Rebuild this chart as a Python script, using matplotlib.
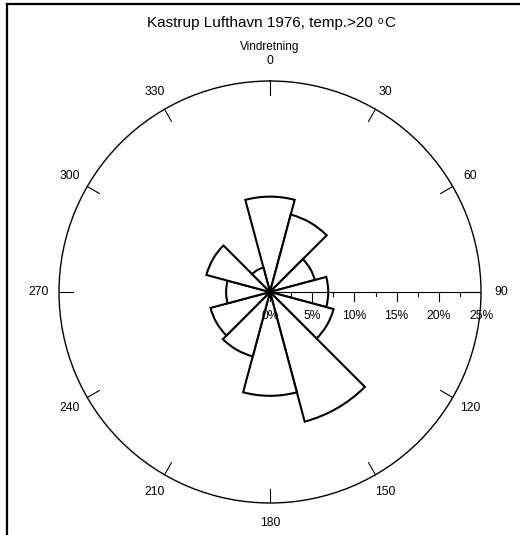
import numpy as np
import matplotlib.pyplot as plt
from matplotlib.lines import Line2D

plt.rcParams['font.family'] = ['Liberation Sans', 'DejaVu Sans']

# wind direction (deg) and frequency (%)
directions = [0, 30, 60, 90, 120, 150, 180, 210, 240, 270, 300, 330]
freq = [11.3, 9.5, 5.5, 6.9, 7.8, 15.9, 12.3, 7.9, 7.3, 5.2, 7.8, 3.0]
angle_labels = ['0', '30', '60', '90', '120', '150', '180', '210', '240', '270', '300', '330']
pct_ticks = [0, 5, 10, 15, 20, 25]
rmax = 25

fig = plt.figure(figsize=(5.2, 5.35), dpi=100)
rect = [59 / 520, 32 / 535, 422 / 520, 422 / 535]

# polar axes for the rose
ax = fig.add_axes(rect, projection='polar')
ax.set_theta_zero_location('N')
ax.set_theta_direction(-1)
ax.bar(np.deg2rad(directions), freq, width=np.deg2rad(30), bottom=0,
       facecolor='white', edgecolor='black', linewidth=1.5, zorder=3)
ax.set_ylim(0, rmax)
ax.grid(False)
ax.set_xticks([])
ax.set_yticks([])
ax.spines['polar'].set_linewidth(1.0)

# cartesian overlay for axis, ticks and labels
ax2 = fig.add_axes(rect)
ax2.set_xlim(-rmax, rmax)
ax2.set_ylim(-rmax, rmax)
ax2.axis('off')
ax2.patch.set_visible(False)

# radial scale along 90 deg
ax2.plot([0, rmax], [0, 0], color='black', lw=0.8, zorder=1)
for v in np.arange(0, rmax + 0.1, 2.5):
    ln = 1.07 if v % 5 == 0 else 0.47
    ax2.plot([v, v], [0, -ln], color='black', lw=0.8)
for v in pct_ticks:
    ax2.text(v, -2.85, '%d%%' % v, ha='center', va='center', fontsize=8.7)

# direction ticks and labels
for d, lab in zip(directions, angle_labels):
    a = np.deg2rad(90 - d)
    ax2.plot([23.35 * np.cos(a), rmax * np.cos(a)], [23.35 * np.sin(a), rmax * np.sin(a)],
             color='black', lw=0.8)
    ax2.text(27.4 * np.cos(a), 27.4 * np.sin(a), lab, ha='center', va='center', fontsize=8.7)

ax2.text(0, 29.0, 'Vindretning', ha='center', va='center', fontsize=8.5)

# title with small raised "o"
t = fig.text(147 / 520, 1 - 23 / 535, 'Kastrup Lufthavn 1976, temp.>20 ',
             ha='left', va='center', fontsize=11)
ax2.annotate('o', xy=(1, 0.28), xycoords=t, fontsize=7, ha='left', va='bottom',
             annotation_clip=False)
ax2.annotate('C', xy=(1, 0), xycoords=t, xytext=(5, 0), textcoords='offset points',
             fontsize=11, ha='left', va='bottom', annotation_clip=False)

# frame: top and left lines
fig.add_artist(Line2D([7 / 520, 1], [1 - 4 / 535, 1 - 4 / 535], color='black', lw=1.6,
                      transform=fig.transFigure))
fig.add_artist(Line2D([7 / 520, 7 / 520], [0, 1 - 4 / 535], color='black', lw=1.6,
                      transform=fig.transFigure))

fig.savefig('out.png', dpi=100)
